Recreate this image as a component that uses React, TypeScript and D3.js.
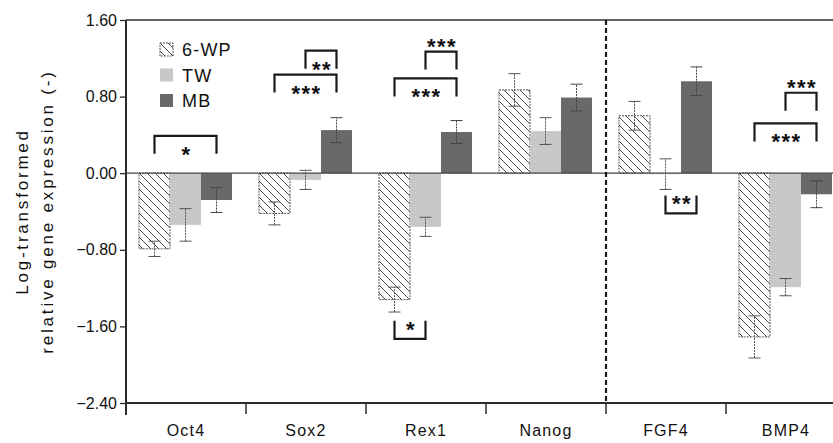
import * as d3 from "d3";
import { useRef, useEffect } from "react";

const categories = ["Oct4", "Sox2", "Rex1", "Nanog", "FGF4", "BMP4"];
const seriesNames = ["6-WP", "TW", "MB"];

// mean and error for each group
const wpValues = [-0.79, -0.42, -1.32, 0.87, 0.6, -1.71];
const wpErrors = [0.08, 0.12, 0.13, 0.17, 0.15, 0.22];
const twValues = [-0.54, -0.07, -0.56, 0.44, -0.01, -1.19];
const twErrors = [0.17, 0.1, 0.1, 0.14, 0.16, 0.09];
const mbValues = [-0.28, 0.45, 0.43, 0.79, 0.96, -0.22];
const mbErrors = [0.13, 0.13, 0.12, 0.14, 0.15, 0.14];

const yTicks = [-2.4, -1.6, -0.8, 0, 0.8, 1.6];

// significance brackets
const bracketGenes = ["Oct4", "Sox2", "Sox2", "Rex1", "Rex1", "Rex1", "FGF4", "BMP4", "BMP4"];
const bracketFrom = ["6-WP", "6-WP", "TW", "6-WP", "TW", "6-WP", "TW", "6-WP", "TW"];
const bracketTo = ["MB", "MB", "MB", "MB", "MB", "TW", "MB", "MB", "MB"];
const bracketLevels = [0.39, 1.03, 1.28, 0.99, 1.27, -1.73, -0.42, 0.52, 0.84];
const bracketStars = ["*", "***", "**", "***", "***", "*", "**", "***", "***"];
const bracketLabelAbove = [false, false, false, false, true, false, false, false, true];

const width = 833;
const height = 443;
const margin = { top: 20, left: 126, bottom: 40 };
const plotRight = 846; // last band runs past the picture edge
const font = "Arial, 'Liberation Sans', sans-serif";
const ink = "#2b2b2b";

export default function App() {
  const svgRef = useRef<SVGSVGElement>(null);

  useEffect(() => {
    const svg = d3.select(svgRef.current);
    svg.selectAll("*").remove();

    const x = d3.scaleBand().domain(categories).range([margin.left, plotRight]).padding(0);
    const xs = d3.scaleBand().domain(seriesNames).range([13, 106]).padding(0);
    const y = d3.scaleLinear().domain([-2.4, 1.6]).range([height - margin.bottom, margin.top]);

    const defs = svg.append("defs");
    const hatch = defs.append("pattern")
      .attr("id", "hatch")
      .attr("patternUnits", "userSpaceOnUse")
      .attr("width", 8)
      .attr("height", 8);
    hatch.append("rect").attr("width", 8).attr("height", 8).attr("fill", "#fff");
    hatch.append("path")
      .attr("d", "M-2,-2L10,10M-2,6L2,10M6,-2L10,2")
      .attr("stroke", "#4a4a4a")
      .attr("stroke-width", 1);

    const fills: Record<string, string> = { "6-WP": "url(#hatch)", TW: "#c8c8c8", MB: "#696969" };
    const rows = categories.map((c, i) => ({
      cat: c,
      items: [
        { s: "6-WP", v: wpValues[i], e: wpErrors[i] },
        { s: "TW", v: twValues[i], e: twErrors[i] },
        { s: "MB", v: mbValues[i], e: mbErrors[i] },
      ],
    }));

    // frame: top border, left axis, zero line
    svg.append("line")
      .attr("x1", margin.left).attr("x2", width)
      .attr("y1", y(1.6)).attr("y2", y(1.6))
      .attr("stroke", ink).attr("stroke-width", 1.5);

    const groups = svg.append("g").selectAll("g")
      .data(rows)
      .join("g")
      .attr("transform", d => `translate(${x(d.cat)},0)`);

    groups.selectAll("rect")
      .data(d => d.items)
      .join("rect")
      .attr("x", d => xs(d.s)!)
      .attr("width", xs.bandwidth())
      .attr("y", d => y(Math.max(0, d.v)))
      .attr("height", d => Math.abs(y(d.v) - y(0)))
      .attr("fill", d => fills[d.s])
      .attr("stroke", d => (d.s === "6-WP" ? "#555" : "none"))
      .attr("stroke-dasharray", "2,1");

    // error bars
    const err = groups.selectAll("g.err")
      .data(d => d.items)
      .join("g")
      .attr("class", "err")
      .attr("transform", d => `translate(${xs(d.s)! + xs.bandwidth() / 2},0)`)
      .attr("stroke", d => (d.s === "MB" ? "#444" : "#555"))
      .attr("stroke-width", 1);
    err.append("line")
      .attr("y1", d => y(d.v - d.e))
      .attr("y2", d => y(d.v + d.e))
      .attr("stroke-dasharray", "2,1");
    err.append("line")
      .attr("x1", -6).attr("x2", 6)
      .attr("y1", d => y(d.v - d.e)).attr("y2", d => y(d.v - d.e));
    err.append("line")
      .attr("x1", -6).attr("x2", 6)
      .attr("y1", d => y(d.v + d.e)).attr("y2", d => y(d.v + d.e));

    svg.append("line")
      .attr("x1", margin.left).attr("x2", width)
      .attr("y1", y(0)).attr("y2", y(0))
      .attr("stroke", "#444").attr("stroke-width", 1.3);

    // y axis
    const yAxis = svg.append("g")
      .attr("transform", `translate(${margin.left},0)`)
      .call(d3.axisLeft(y).tickValues(yTicks).tickFormat(d3.format(".2f")).tickSize(6).tickPadding(3));
    yAxis.select(".domain").remove();
    yAxis.selectAll("line").attr("stroke", ink).attr("stroke-width", 1.3);
    yAxis.selectAll("text")
      .attr("font-family", font).attr("font-size", 16).attr("fill", "#111");
    svg.append("line")
      .attr("x1", margin.left).attr("x2", margin.left)
      .attr("y1", y(1.6)).attr("y2", height - margin.bottom + 12)
      .attr("stroke", ink).attr("stroke-width", 2);

    // x axis
    const xAxis = svg.append("g")
      .attr("transform", `translate(0,${height - margin.bottom})`);
    xAxis.append("line")
      .attr("x1", margin.left).attr("x2", width)
      .attr("stroke", ink).attr("stroke-width", 2);
    xAxis.selectAll("line.tick")
      .data(categories.slice(1))
      .join("line")
      .attr("class", "tick")
      .attr("x1", d => x(d)!).attr("x2", d => x(d)!)
      .attr("y2", 11)
      .attr("stroke", ink).attr("stroke-width", 1.5);
    xAxis.selectAll("text")
      .data(categories)
      .join("text")
      .attr("x", d => x(d)! + x.bandwidth() / 2)
      .attr("y", 33)
      .attr("text-anchor", "middle")
      .attr("font-family", font).attr("font-size", 16).attr("letter-spacing", 1.2)
      .attr("fill", "#111")
      .text(d => d);

    // dashed divider between Nanog and FGF4
    svg.append("line")
      .attr("x1", x("FGF4")!).attr("x2", x("FGF4")!)
      .attr("y1", y(1.6)).attr("y2", height - margin.bottom)
      .attr("stroke", "#1a1a1a").attr("stroke-width", 2.2)
      .attr("stroke-dasharray", "5,3");

    // y title
    const title = svg.append("text")
      .attr("transform", `translate(28,${(y(1.6) + y(-2.4)) / 2}) rotate(-90)`)
      .attr("text-anchor", "middle")
      .attr("font-family", font).attr("font-size", 17).attr("letter-spacing", 2.8)
      .attr("fill", "#111");
    title.append("tspan").attr("x", 0).attr("y", 0).text("Log-transformed");
    title.append("tspan").attr("x", 0).attr("y", 25).text("relative gene expression (-)");

    // legend
    const legend = svg.append("g").selectAll("g")
      .data(seriesNames)
      .join("g")
      .attr("transform", (d, i) => `translate(160,${43 + i * 25.5})`);
    legend.append("rect")
      .attr("width", 13).attr("height", 13)
      .attr("fill", d => fills[d])
      .attr("stroke", d => (d === "6-WP" ? "#555" : "none"))
      .attr("stroke-dasharray", "2,1");
    legend.append("text")
      .attr("x", 22).attr("y", 13)
      .attr("font-family", font).attr("font-size", 18).attr("letter-spacing", 1.2)
      .attr("fill", "#111")
      .text(d => d);

    // significance brackets
    const legLen = 18;
    const brackets = bracketGenes.map((g, i) => {
      const x0 = x(g)! + xs(bracketFrom[i])! + xs.bandwidth() / 2;
      const x1 = x(g)! + xs(bracketTo[i])! + xs.bandwidth() / 2;
      const ly = y(bracketLevels[i]);
      const dir = bracketLevels[i] < 0 ? -1 : 1; // legs point down above zero, up below
      return { x0, x1, ly, dir, label: bracketStars[i], above: bracketLabelAbove[i] };
    });
    const br = svg.append("g").selectAll("g").data(brackets).join("g");
    br.append("path")
      .attr("d", d => `M${d.x0},${d.ly + d.dir * legLen}V${d.ly}H${d.x1}V${d.ly + d.dir * legLen}`)
      .attr("fill", "none").attr("stroke", "#1a1a1a").attr("stroke-width", 2.2);
    br.append("text")
      .attr("x", d => (d.x0 + d.x1) / 2 + 1)
      .attr("y", d => {
        const cy = d.above ? d.ly - 10 : d.ly + d.dir * 14;
        return cy + 12;
      })
      .attr("text-anchor", "middle")
      .attr("font-family", font).attr("font-size", 22).attr("font-weight", "bold")
      .attr("letter-spacing", 1.5)
      .attr("fill", "#111")
      .text(d => d.label);
  }, []);

  return (
    <svg
      ref={svgRef}
      width={width}
      height={height}
      style={{ position: "absolute", left: 0, top: 0, background: "#fff" }}
    />
  );
}
